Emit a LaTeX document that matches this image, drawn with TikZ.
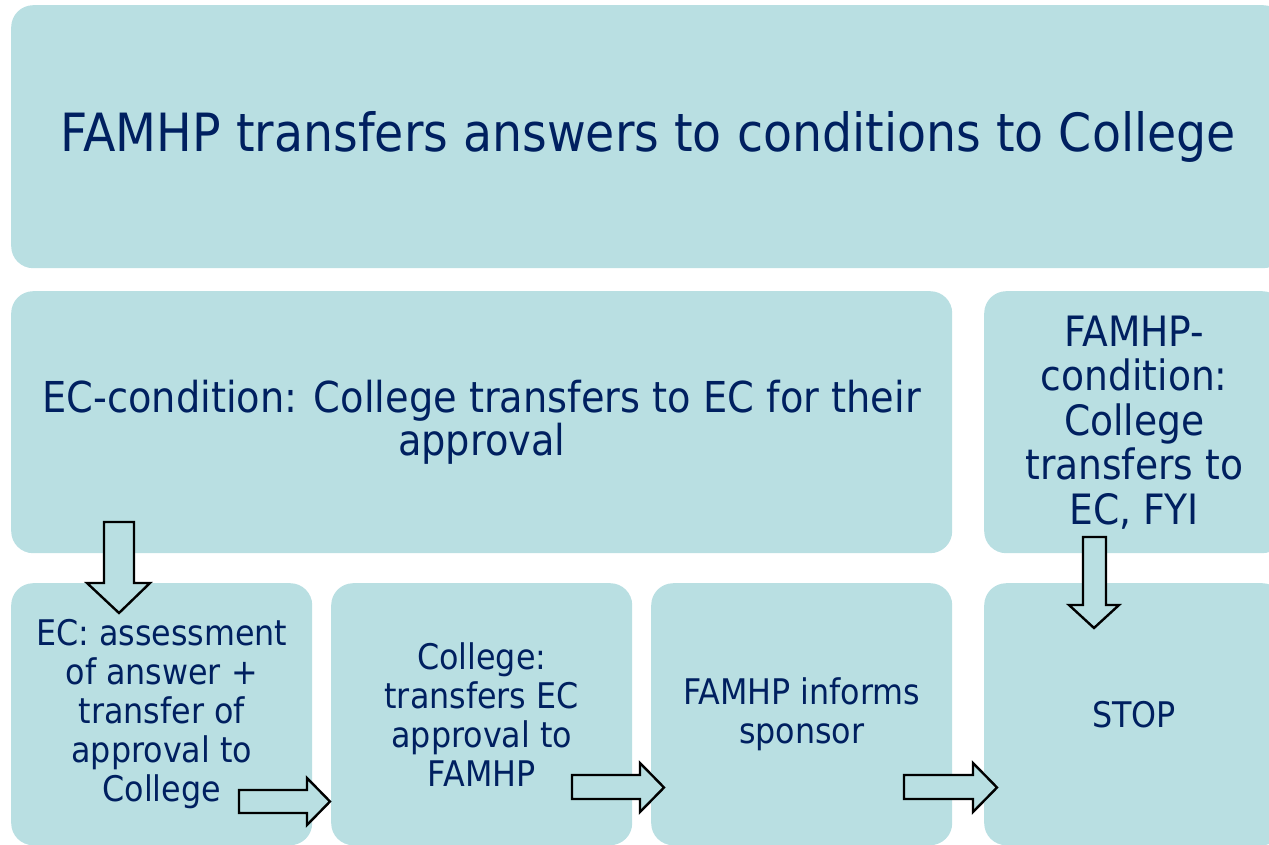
\documentclass[tikz,border=0pt]{standalone}
\usepackage{fontspec}
\setmainfont{DejaVu Sans}[FakeStretch=0.9]
\definecolor{boxfill}{HTML}{B9DFE2}
\definecolor{navy}{HTML}{002060}
\begin{document}
\begin{tikzpicture}[x=1pt,y=-1pt,
  box/.style={fill=boxfill, draw=none, rounded corners=22pt, anchor=north west,
    inner sep=0pt, align=center, text=navy, minimum height=262pt},
  bigtext/.style={font=\fontsize{52.7}{60}\selectfont},
  midtext/.style={font=\fontsize{42.6}{43.5}\selectfont},
  sidetext/.style={font=\fontsize{41.8}{44.5}\selectfont},
  smalltext/.style={font=\fontsize{35.3}{39}\selectfont},
  blockarrow/.style={fill=boxfill, draw=black, line width=2.4pt, line join=miter}]
\useasboundingbox (0,0) rectangle (1269,845);
\clip (0,0) rectangle (1269,845);

% top banner
\node[box, bigtext, minimum width=1274pt, minimum height=263pt] (top) at (11,5)
  {FAMHP transfers answers to conditions to College};

% second row
\node[box, midtext, minimum width=941pt] (ecc) at (11,291)
  {EC-condition: College transfers to EC for their\\approval};
\node[box, sidetext, minimum width=300pt] (famc) at (984,291)
  {FAMHP-\\condition:\\College\\transfers to\\EC, FYI};

% third row
\node[box, smalltext, minimum width=301pt] (assess) at (11,583)
  {EC: assessment\\of answer +\\transfer of\\approval to\\College};
\node[box, smalltext, minimum width=301pt] (college) at (331,583)
  {College:\\transfers EC\\approval to\\FAMHP};
\node[box, smalltext, minimum width=301pt] (inform) at (651,583)
  {FAMHP informs\\sponsor};
\node[box, smalltext, minimum width=300pt] (stop) at (984,583)
  {STOP};

% block arrows
\draw[blockarrow] (104,522) -- (134,522) -- (134,583) -- (150,583) -- (119,613)
  -- (87,583) -- (104,583) -- cycle;
\draw[blockarrow] (1083,537) -- (1106,537) -- (1106,605) -- (1119,605) -- (1094,628)
  -- (1069,605) -- (1083,605) -- cycle;
\draw[blockarrow] (239,790) -- (307,790) -- (307,778) -- (330,801.5) -- (307,825)
  -- (307,813) -- (239,813) -- cycle;
\draw[blockarrow] (572,775) -- (640,775) -- (640,763) -- (664,787.5) -- (640,812)
  -- (640,799) -- (572,799) -- cycle;
\draw[blockarrow] (904,775) -- (973,775) -- (973,763) -- (997,787.5) -- (973,812)
  -- (973,799) -- (904,799) -- cycle;
\end{tikzpicture}
\end{document}
